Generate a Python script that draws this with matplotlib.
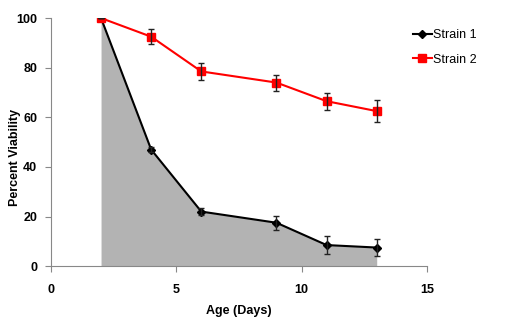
import numpy as np
import matplotlib
matplotlib.use("Agg")
import matplotlib.pyplot as plt

plt.rcParams['font.family'] = ['Liberation Sans', 'DejaVu Sans']

# data
days = [2, 4, 6, 9, 11, 13]
strain1 = [100, 47, 22, 17.5, 8.5, 7.5]
strain1_err = [0, 1, 1.5, 2.8, 3.8, 3.5]
strain2 = [100, 92.5, 78.5, 74, 66.5, 62.5]
strain2_err = [0, 3, 3.5, 3.2, 3.5, 4.5]

fig = plt.figure(figsize=(5.25, 3.23), dpi=100)
ax = fig.add_axes([0.097, 0.176, 0.716, 0.768])

ax.fill_between(days, 0, strain1, color='#b3b3b3', linewidth=0, zorder=1)
ax.plot(days, strain1, color='black', marker='D', markersize=4, linewidth=1.5,
        label='Strain 1', zorder=3)
ax.plot(days, strain2, color='#ff0000', marker='s', markersize=6, linewidth=1.5,
        label='Strain 2', zorder=3)
ax.errorbar(days, strain1, yerr=strain1_err, fmt='none', ecolor='#222222',
            elinewidth=1, capsize=2, zorder=4)
ax.errorbar(days, strain2, yerr=strain2_err, fmt='none', ecolor='#222222',
            elinewidth=1, capsize=2, zorder=4)

ax.set_xlim(0, 15)
ax.set_ylim(0, 100)
ax.set_xticks([0, 5, 10, 15])
ax.set_yticks([0, 20, 40, 60, 80, 100])
for s in ['top', 'right']:
    ax.spines[s].set_visible(False)
for s in ['left', 'bottom']:
    ax.spines[s].set_color('#888888')
ax.tick_params(colors='#888888', length=4, labelcolor='black', labelsize=9)
ax.tick_params(axis='y', pad=6)
ax.tick_params(axis='x', pad=9)
for lab in ax.get_xticklabels() + ax.get_yticklabels():
    lab.set_fontweight('bold')
ax.set_xlabel('Age (Days)', fontsize=9, fontweight='bold', labelpad=6)
ax.set_ylabel('Percent Viability', fontsize=9, fontweight='bold')
ax.yaxis.set_label_coords(-0.08, 0.44)

ax.legend(loc='upper left', bbox_to_anchor=(0.933, 1.0), frameon=False, fontsize=9,
          handlelength=1.5, handletextpad=0.1, labelspacing=1.0)

fig.savefig('out.png', dpi=100)
